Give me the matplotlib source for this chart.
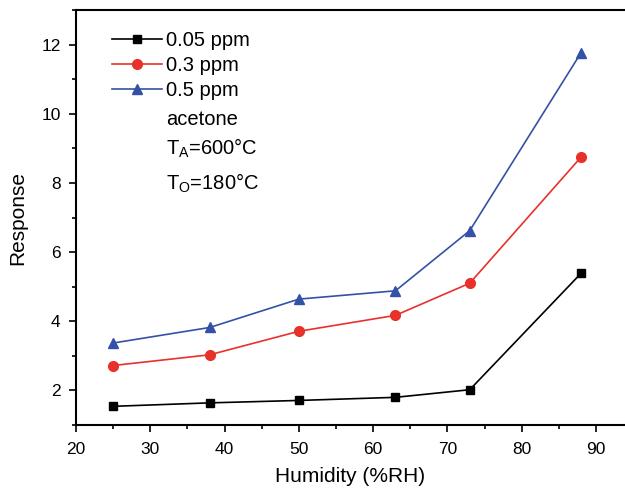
import matplotlib
matplotlib.use("Agg")
import matplotlib.pyplot as plt
from matplotlib.ticker import MultipleLocator

plt.rcParams['font.family'] = ['Liberation Sans', 'DejaVu Sans']
plt.rcParams['mathtext.fontset'] = 'custom'
plt.rcParams['mathtext.rm'] = 'Liberation Sans'

humidity = [25, 38, 50, 63, 73, 88]
resp_005 = [1.54, 1.64, 1.71, 1.80, 2.02, 5.39]
resp_03 = [2.72, 3.03, 3.71, 4.17, 5.10, 8.75]
resp_05 = [3.37, 3.82, 4.64, 4.88, 6.62, 11.77]
labels = ['0.05 ppm', '0.3 ppm', '0.5 ppm']

fig = plt.figure(figsize=(6.25, 4.88), dpi=100)
ax = fig.add_axes([0.1216, 0.1291, 0.8784, 0.8504])

ax.plot(humidity, resp_005, color='black', marker='s', markersize=6, lw=1.2, label=labels[0])
ax.plot(humidity, resp_03, color='#E8312A', marker='o', markersize=7, lw=1.2, label=labels[1])
ax.plot(humidity, resp_05, color='#3451A8', marker='^', markersize=7.5, lw=1.2, label=labels[2])

ax.set_xlim(20, 93.9)
ax.set_ylim(1, 13)
ax.xaxis.set_major_locator(MultipleLocator(10))
ax.xaxis.set_minor_locator(MultipleLocator(5))
ax.yaxis.set_major_locator(MultipleLocator(2))
ax.yaxis.set_minor_locator(MultipleLocator(1))
ax.tick_params(which='major', direction='out', length=5, width=1.2, labelsize=12.5)
ax.tick_params(which='minor', direction='out', length=3, width=1.2)
ax.tick_params(axis='x', which='major', pad=7.5)
ax.tick_params(axis='y', which='major', pad=6)
ax.tick_params(axis='both', which='both', top=False, right=False)
for s in ['left', 'bottom', 'top']:
    ax.spines[s].set_linewidth(1.5)
ax.spines['right'].set_visible(False)

ax.set_xlabel('Humidity (%RH)', fontsize=15, labelpad=7)
ax.set_ylabel('Response', fontsize=15, labelpad=10)

leg = ax.legend(loc='upper left', bbox_to_anchor=(0.065, 0.949), frameon=False,
                fontsize=14.5, handlelength=2.5, handletextpad=0.2, labelspacing=0.3,
                borderaxespad=0, borderpad=0)

tx = 0.164
ax.text(tx, 0.737, 'acetone', transform=ax.transAxes, fontsize=14.5, va='center')
ax.text(tx, 0.667, r'T$_\mathregular{A}$=600°C', transform=ax.transAxes, fontsize=14.5, va='center')
ax.text(tx, 0.583, r'T$_\mathregular{O}$=180°C', transform=ax.transAxes, fontsize=14.5, va='center')

fig.savefig('out.png', dpi=100)
